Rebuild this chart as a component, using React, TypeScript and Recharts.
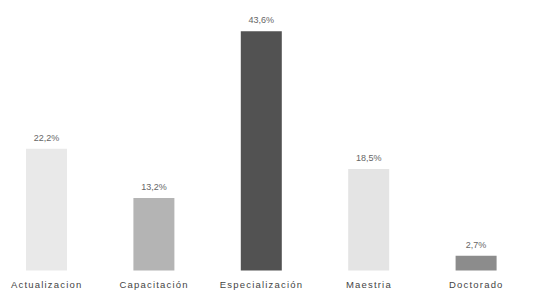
import React from "react";
import { BarChart, Bar, XAxis, YAxis, Cell, LabelList } from "recharts";

const categories = ["Actualizacion", "Capacitación", "Especialización", "Maestria", "Doctorado"];
const values = [22.2, 13.2, 43.6, 18.5, 2.7];
const colors = ["#e9e9e9", "#b4b4b4", "#525252", "#e4e4e4", "#8c8c8c"];

const data = categories.map((name, i) => ({ name, value: values[i] }));

const fmt = (v: number) => v.toFixed(1).replace(".", ",") + "%";

export default function App() {
  return (
    <div style={{ marginLeft: -15, marginTop: -8 }}>
      <BarChart
        width={559}
        height={292}
        data={data}
        margin={{ top: 7, right: 22, bottom: 0, left: 0 }}
      >
        <XAxis
          dataKey="name"
          axisLine={false}
          tickLine={false}
          tickSize={0}
          tickMargin={11}
          height={21.5}
          interval={0}
          tick={{ fill: "#444", fontSize: 9.5, fontFamily: "Liberation Sans, Arial, sans-serif", letterSpacing: 1.2 }}
        />
        <YAxis hide domain={[0, 48]} />
        <Bar dataKey="value" barSize={41} isAnimationActive={false}>
          {data.map((d, i) => (
            <Cell key={d.name} fill={colors[i]} />
          ))}
          <LabelList
            dataKey="value"
            position="top"
            offset={8}
            formatter={(v: any) => fmt(Number(v))}
            style={{ fill: "#666", fontSize: 9, fontFamily: "Liberation Sans, Arial, sans-serif" }}
          />
        </Bar>
      </BarChart>
    </div>
  );
}
